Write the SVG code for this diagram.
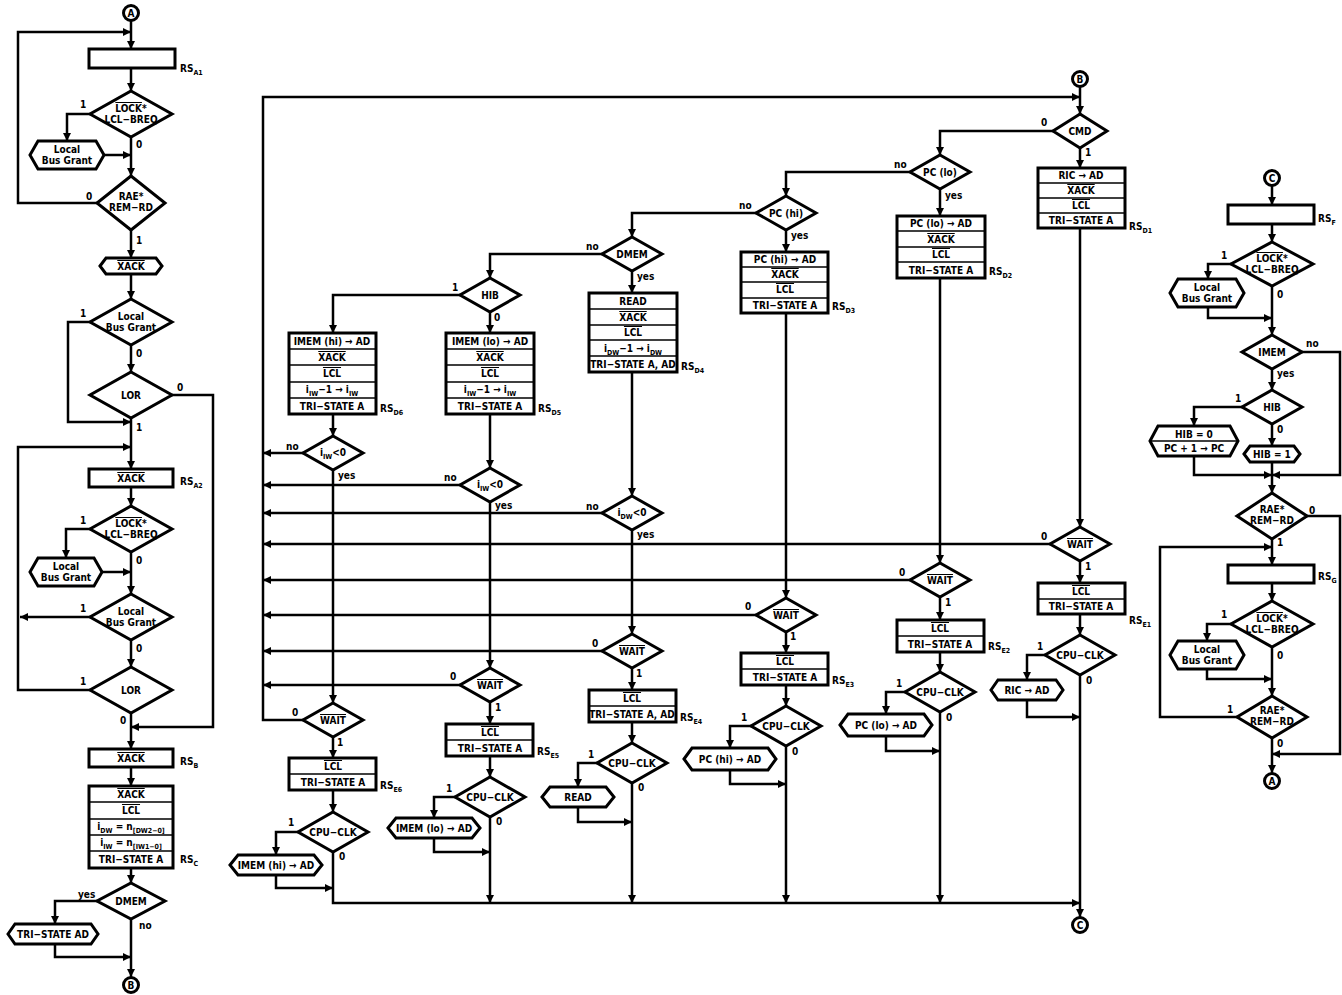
<svg xmlns="http://www.w3.org/2000/svg" width="1342" height="995" viewBox="0 0 1342 995">
<style>
.n{fill:#fff;stroke:#000;stroke-width:3}
.r{fill:none;stroke:#000;stroke-width:1.5}
.c{fill:none;stroke:#000;stroke-width:2.5}
.t{font-family:"DejaVu Sans Condensed","DejaVu Sans",sans-serif;font-weight:bold;font-size:10px;text-anchor:middle;fill:#000}
.s{font-family:"DejaVu Sans Condensed","DejaVu Sans",sans-serif;font-weight:bold;font-size:10px;text-anchor:start;fill:#000}
.ov{text-decoration:overline}
.sb{font-size:7px}
</style>
<defs>
<marker id="ah" viewBox="0 0 10 10" refX="10" refY="5" markerWidth="9" markerHeight="8" orient="auto" markerUnits="userSpaceOnUse"><path d="M0,0 L10,5 L0,10 z" fill="#000"/></marker>
</defs>
<rect width="1342" height="995" fill="#fff"/>

<g id="connectors" class="c" marker-end="url(#ah)">
<!-- left column -->
<path d="M131,21 V49"/>
<path d="M131,68 V91"/>
<path d="M90,114 H67 V141"/>
<path d="M131,137 V176"/>
<path d="M104,155 H131"/>
<path d="M97,203 H18 V32 H131"/>
<path d="M131,230 V258"/>
<path d="M131,274 V299"/>
<path d="M90,322 H68 V422 H131"/>
<path d="M131,345 V372"/>
<path d="M172,395 H213 V727 H131"/>
<path d="M131,418 V469"/>
<path d="M90,690 H18 V447 H131"/>
<path d="M131,487 V506"/>
<path d="M90,529 H66 V558"/>
<path d="M102,572 H131"/>
<path d="M131,552 V594"/>
<path d="M90,617 H20"/>
<path d="M131,640 V667"/>
<path d="M131,713 V749"/>
<path d="M131,767 V786"/>
<path d="M131,868 V883"/>
<path d="M97,901 H55 V924"/>
<path d="M55,944 V957 H131"/>
<path d="M131,919 V977"/>
<!-- middle -->
<path d="M303,720 H263 V97 H1080"/>
<path d="M1080,87 V114"/>
<path d="M1053,131 H940 V155"/>
<path d="M1080,148 V168"/>
<path d="M910,172 H786 V196"/>
<path d="M940,189 V216"/>
<path d="M756,213 H632 V237"/>
<path d="M786,230 V252"/>
<path d="M602,254 H490 V278"/>
<path d="M632,271 V293"/>
<path d="M460,295 H333 V333"/>
<path d="M490,312 V333"/>
<path d="M333,414 V436"/>
<path d="M303,453 H263"/>
<path d="M333,470 V703"/>
<path d="M490,414 V468"/>
<path d="M460,485 H263"/>
<path d="M490,502 V668"/>
<path d="M632,372 V496"/>
<path d="M602,513 H263"/>
<path d="M632,530 V634"/>
<path d="M786,313 V598"/>
<path d="M940,278 V563"/>
<path d="M1080,228 V527"/>
<path d="M1050,544 H263"/>
<path d="M910,580 H263"/>
<path d="M756,615 H263"/>
<path d="M602,651 H263"/>
<path d="M460,685 H263"/>
<path d="M1080,561 V583"/>
<path d="M940,597 V620"/>
<path d="M786,632 V653"/>
<path d="M632,668 V690"/>
<path d="M490,702 V724"/>
<path d="M333,737 V758"/>
<path d="M1080,614 V635"/>
<path d="M940,652 V672"/>
<path d="M786,685 V706"/>
<path d="M632,722 V743"/>
<path d="M490,756 V777"/>
<path d="M333,790 V812"/>
<path d="M1045,655 H1027 V680"/>
<path d="M905,692 H886 V714"/>
<path d="M751,726 H730 V748"/>
<path d="M597,763 H578 V787"/>
<path d="M455,797 H434 V818"/>
<path d="M298,832 H276 V855"/>
<path d="M1027,700 V717 H1080"/>
<path d="M886,736 V751 H940"/>
<path d="M730,770 V784 H786"/>
<path d="M578,807 V822 H632"/>
<path d="M434,838 V852 H490"/>
<path d="M276,875 V888 H333"/>
<path d="M333,852 V903 H1080"/>
<path d="M490,817 V903"/>
<path d="M632,783 V903"/>
<path d="M786,746 V903"/>
<path d="M940,712 V903"/>
<path d="M1080,675 V917"/>
<!-- right column -->
<path d="M1272,186 V205"/>
<path d="M1272,224 V242"/>
<path d="M1231,264 H1208 V279"/>
<path d="M1208,307 V318 H1272"/>
<path d="M1272,286 V335"/>
<path d="M1302,352 H1340 V475 H1272"/>
<path d="M1272,369 V390"/>
<path d="M1242,407 H1194 V426"/>
<path d="M1272,424 V446"/>
<path d="M1194,456 V475 H1272"/>
<path d="M1272,462 V493"/>
<path d="M1307,516 H1340 V754 H1272"/>
<path d="M1272,539 V565"/>
<path d="M1237,717 H1160 V547 H1272"/>
<path d="M1272,583 V601"/>
<path d="M1231,624 H1207 V641"/>
<path d="M1207,669 V679 H1272"/>
<path d="M1272,647 V696"/>
<path d="M1272,738 V773"/>
</g>

<!-- LEFT COLUMN NODES -->
<g id="conA_top"><circle class="n" cx="131" cy="13" r="7.5" stroke-width="2.5"/><text class="t" x="131" y="17" font-size="9">A</text></g>
<g id="RSA1"><rect class="n" x="89" y="49" width="86" height="19"/><text class="s" x="180" y="72">RS<tspan class="sb" dy="3">A1</tspan></text></g>
<g id="lock1"><polygon class="n" points="131,91 172,114 131,137 90,114"/><text class="t" x="131" y="112"><tspan class="ov">LOCK</tspan>*</text><text class="t" x="131" y="123">LCL−BREQ</text><text class="s" x="80" y="108">1</text><text class="s" x="136" y="148">0</text></g>
<g id="lbg_hex1"><polygon class="n" points="30,155 38,141 96,141 104,155 96,169 38,169"/><text class="t" x="67" y="153">Local</text><text class="t" x="67" y="164">Bus Grant</text></g>
<g id="rae1"><polygon class="n" points="131,176 165,203 131,230 97,203"/><text class="t" x="131" y="200">RAE*</text><text class="t" x="131" y="211">REM−RD</text><text class="s" x="86" y="200">0</text><text class="s" x="136" y="244">1</text></g>
<g id="xack_hex"><polygon class="n" points="100,266 106,258 156,258 162,266 156,274 106,274"/><text class="t ov" x="131" y="270">XACK</text></g>
<g id="lbg_dec1"><polygon class="n" points="131,299 172,322 131,345 90,322"/><text class="t" x="131" y="320">Local</text><text class="t" x="131" y="331">Bus Grant</text><text class="s" x="80" y="317">1</text><text class="s" x="136" y="357">0</text></g>
<g id="lor1"><polygon class="n" points="131,372 172,395 131,418 90,395"/><text class="t" x="131" y="399">LOR</text><text class="s" x="177" y="391">0</text><text class="s" x="136" y="431">1</text></g>
<g id="RSA2"><rect class="n" x="89" y="469" width="84" height="18"/><text class="t ov" x="131" y="482">XACK</text><text class="s" x="180" y="485">RS<tspan class="sb" dy="3">A2</tspan></text></g>
<g id="lock2"><polygon class="n" points="131,506 172,529 131,552 90,529"/><text class="t" x="131" y="527"><tspan class="ov">LOCK</tspan>*</text><text class="t" x="131" y="538">LCL−BREQ</text><text class="s" x="80" y="524">1</text><text class="s" x="136" y="564">0</text></g>
<g id="lbg_hex2"><polygon class="n" points="30,572 38,558 94,558 102,572 94,586 38,586"/><text class="t" x="66" y="570">Local</text><text class="t" x="66" y="581">Bus Grant</text></g>
<g id="lbg_dec2"><polygon class="n" points="131,594 172,617 131,640 90,617"/><text class="t" x="131" y="615">Local</text><text class="t" x="131" y="626">Bus Grant</text><text class="s" x="80" y="612">1</text><text class="s" x="136" y="652">0</text></g>
<g id="lor2"><polygon class="n" points="131,667 172,690 131,713 90,690"/><text class="t" x="131" y="694">LOR</text><text class="s" x="80" y="685">1</text><text class="s" x="120" y="724">0</text></g>
<g id="RSB"><rect class="n" x="89" y="749" width="84" height="18"/><text class="t ov" x="131" y="762">XACK</text><text class="s" x="180" y="765">RS<tspan class="sb" dy="3">B</tspan></text></g>
<g id="RSC"><rect class="n" x="89" y="786" width="84" height="82"/><path class="r" d="M89,802 H173 M89,819 H173 M89,835 H173 M89,851 H173"/>
<text class="t ov" x="131" y="798">XACK</text><text class="t ov" x="131" y="814">LCL</text>
<text class="t" x="131" y="830">i<tspan class="sb" dy="3">DW</tspan><tspan dy="-3"> = n</tspan><tspan class="sb" dy="3">[DW2−0]</tspan></text>
<text class="t" x="131" y="846">i<tspan class="sb" dy="3">IW</tspan><tspan dy="-3"> = n</tspan><tspan class="sb" dy="3">[IW1−0]</tspan></text>
<text class="t" x="131" y="863">TRI−STATE A</text><text class="s" x="180" y="863">RS<tspan class="sb" dy="3">C</tspan></text></g>
<g id="dmem1"><polygon class="n" points="131,883 165,901 131,919 97,901"/><text class="t" x="131" y="905">DMEM</text><text class="s" x="78" y="898">yes</text><text class="s" x="139" y="929">no</text></g>
<g id="tsad_hex"><polygon class="n" points="8,934 15,924 91,924 98,934 91,944 15,944"/><text class="t" x="53" y="938">TRI−STATE AD</text></g>
<g id="conB_bottom"><circle class="n" cx="131" cy="985" r="7.5" stroke-width="2.5"/><text class="t" x="131" y="989" font-size="9">B</text></g>

<!-- MIDDLE NODES -->
<g id="conB_top"><circle class="n" cx="1080" cy="79" r="7.5" stroke-width="2.5"/><text class="t" x="1080" y="83" font-size="9">B</text></g>
<g id="cmd"><polygon class="n" points="1080,114 1107,131 1080,148 1053,131"/><text class="t" x="1080" y="135">CMD</text><text class="s" x="1041" y="126">0</text><text class="s" x="1085" y="156">1</text></g>
<g id="pclo"><polygon class="n" points="940,155 970,172 940,189 910,172"/><text class="t" x="940" y="176">PC (lo)</text><text class="s" x="894" y="168">no</text><text class="s" x="945" y="199">yes</text></g>
<g id="pchi"><polygon class="n" points="786,196 816,213 786,230 756,213"/><text class="t" x="786" y="217">PC (hi)</text><text class="s" x="739" y="209">no</text><text class="s" x="791" y="239">yes</text></g>
<g id="dmem2"><polygon class="n" points="632,237 662,254 632,271 602,254"/><text class="t" x="632" y="258">DMEM</text><text class="s" x="586" y="250">no</text><text class="s" x="637" y="280">yes</text></g>
<g id="hib_mid"><polygon class="n" points="490,278 520,295 490,312 460,295"/><text class="t" x="490" y="299">HIB</text><text class="s" x="452" y="291">1</text><text class="s" x="494" y="321">0</text></g>

<g id="RSD6"><rect class="n" x="289" y="333" width="87" height="81"/><path class="r" d="M289,349 H376 M289,365 H376 M289,382 H376 M289,398 H376"/>
<text class="t" x="332" y="345">IMEM (hi) → AD</text><text class="t ov" x="332" y="361">XACK</text><text class="t ov" x="332" y="377">LCL</text>
<text class="t" x="332" y="393">i<tspan class="sb" dy="3">IW</tspan><tspan dy="-3">−1 → i</tspan><tspan class="sb" dy="3">IW</tspan></text>
<text class="t" x="332" y="410">TRI−STATE A</text><text class="s" x="380" y="412">RS<tspan class="sb" dy="3">D6</tspan></text></g>
<g id="RSD5"><rect class="n" x="446" y="333" width="88" height="81"/><path class="r" d="M446,349 H534 M446,365 H534 M446,382 H534 M446,398 H534"/>
<text class="t" x="490" y="345">IMEM (lo) → AD</text><text class="t ov" x="490" y="361">XACK</text><text class="t ov" x="490" y="377">LCL</text>
<text class="t" x="490" y="393">i<tspan class="sb" dy="3">IW</tspan><tspan dy="-3">−1 → i</tspan><tspan class="sb" dy="3">IW</tspan></text>
<text class="t" x="490" y="410">TRI−STATE A</text><text class="s" x="538" y="412">RS<tspan class="sb" dy="3">D5</tspan></text></g>
<g id="RSD4"><rect class="n" x="589" y="293" width="88" height="79"/><path class="r" d="M589,309 H677 M589,325 H677 M589,340 H677 M589,356 H677"/>
<text class="t" x="633" y="305">READ</text><text class="t ov" x="633" y="321">XACK</text><text class="t ov" x="633" y="336">LCL</text>
<text class="t" x="633" y="352">i<tspan class="sb" dy="3">DW</tspan><tspan dy="-3">−1 → i</tspan><tspan class="sb" dy="3">DW</tspan></text>
<text class="t" x="633" y="368">TRI−STATE A, AD</text><text class="s" x="681" y="370">RS<tspan class="sb" dy="3">D4</tspan></text></g>
<g id="RSD3"><rect class="n" x="741" y="252" width="87" height="61"/><path class="r" d="M741,267 H828 M741,282 H828 M741,298 H828"/>
<text class="t" x="785" y="263">PC (hi) → AD</text><text class="t ov" x="785" y="278">XACK</text><text class="t ov" x="785" y="293">LCL</text>
<text class="t" x="785" y="309">TRI−STATE A</text><text class="s" x="832" y="310">RS<tspan class="sb" dy="3">D3</tspan></text></g>
<g id="RSD2"><rect class="n" x="897" y="216" width="88" height="62"/><path class="r" d="M897,231 H985 M897,247 H985 M897,262 H985"/>
<text class="t" x="941" y="227">PC (lo) → AD</text><text class="t ov" x="941" y="243">XACK</text><text class="t ov" x="941" y="258">LCL</text>
<text class="t" x="941" y="274">TRI−STATE A</text><text class="s" x="989" y="275">RS<tspan class="sb" dy="3">D2</tspan></text></g>
<g id="RSD1"><rect class="n" x="1038" y="168" width="87" height="60"/><path class="r" d="M1038,183 H1125 M1038,198 H1125 M1038,213 H1125"/>
<text class="t" x="1081" y="179">RIC → AD</text><text class="t ov" x="1081" y="194">XACK</text><text class="t ov" x="1081" y="209">LCL</text>
<text class="t" x="1081" y="224">TRI−STATE A</text><text class="s" x="1129" y="230">RS<tspan class="sb" dy="3">D1</tspan></text></g>

<g id="iw6"><polygon class="n" points="333,436 363,453 333,470 303,453"/><text class="t" x="333" y="456">i<tspan class="sb" dy="3">IW</tspan><tspan dy="-3">&lt;0</tspan></text><text class="s" x="286" y="450">no</text><text class="s" x="338" y="479">yes</text></g>
<g id="iw5"><polygon class="n" points="490,468 520,485 490,502 460,485"/><text class="t" x="490" y="488">i<tspan class="sb" dy="3">IW</tspan><tspan dy="-3">&lt;0</tspan></text><text class="s" x="444" y="481">no</text><text class="s" x="495" y="509">yes</text></g>
<g id="dw4"><polygon class="n" points="632,496 662,513 632,530 602,513"/><text class="t" x="632" y="516">i<tspan class="sb" dy="3">DW</tspan><tspan dy="-3">&lt;0</tspan></text><text class="s" x="586" y="510">no</text><text class="s" x="637" y="538">yes</text></g>

<g id="wait1"><polygon class="n" points="1080,527 1110,544 1080,561 1050,544"/><text class="t ov" x="1080" y="548">WAIT</text><text class="s" x="1041" y="540">0</text><text class="s" x="1085" y="570">1</text></g>
<g id="wait2"><polygon class="n" points="940,563 970,580 940,597 910,580"/><text class="t ov" x="940" y="584">WAIT</text><text class="s" x="899" y="576">0</text><text class="s" x="945" y="606">1</text></g>
<g id="wait3"><polygon class="n" points="786,598 816,615 786,632 756,615"/><text class="t ov" x="786" y="619">WAIT</text><text class="s" x="745" y="610">0</text><text class="s" x="790" y="640">1</text></g>
<g id="wait4"><polygon class="n" points="632,634 662,651 632,668 602,651"/><text class="t ov" x="632" y="655">WAIT</text><text class="s" x="592" y="647">0</text><text class="s" x="636" y="677">1</text></g>
<g id="wait5"><polygon class="n" points="490,668 520,685 490,702 460,685"/><text class="t ov" x="490" y="689">WAIT</text><text class="s" x="450" y="680">0</text><text class="s" x="495" y="711">1</text></g>
<g id="wait6"><polygon class="n" points="333,703 363,720 333,737 303,720"/><text class="t ov" x="333" y="724">WAIT</text><text class="s" x="292" y="716">0</text><text class="s" x="337" y="746">1</text></g>

<g id="RSE1"><rect class="n" x="1038" y="583" width="87" height="31"/><path class="r" d="M1038,599 H1125"/><text class="t ov" x="1081" y="595">LCL</text><text class="t" x="1081" y="610">TRI−STATE A</text><text class="s" x="1129" y="624">RS<tspan class="sb" dy="3">E1</tspan></text></g>
<g id="RSE2"><rect class="n" x="897" y="620" width="87" height="32"/><path class="r" d="M897,636 H984"/><text class="t ov" x="940" y="632">LCL</text><text class="t" x="940" y="648">TRI−STATE A</text><text class="s" x="988" y="650">RS<tspan class="sb" dy="3">E2</tspan></text></g>
<g id="RSE3"><rect class="n" x="741" y="653" width="87" height="32"/><path class="r" d="M741,669 H828"/><text class="t ov" x="785" y="665">LCL</text><text class="t" x="785" y="681">TRI−STATE A</text><text class="s" x="832" y="684">RS<tspan class="sb" dy="3">E3</tspan></text></g>
<g id="RSE4"><rect class="n" x="589" y="690" width="87" height="32"/><path class="r" d="M589,706 H676"/><text class="t ov" x="632" y="702">LCL</text><text class="t" x="632" y="718">TRI−STATE A, AD</text><text class="s" x="680" y="721">RS<tspan class="sb" dy="3">E4</tspan></text></g>
<g id="RSE5"><rect class="n" x="446" y="724" width="87" height="32"/><path class="r" d="M446,740 H533"/><text class="t ov" x="490" y="736">LCL</text><text class="t" x="490" y="752">TRI−STATE A</text><text class="s" x="537" y="755">RS<tspan class="sb" dy="3">E5</tspan></text></g>
<g id="RSE6"><rect class="n" x="289" y="758" width="87" height="32"/><path class="r" d="M289,774 H376"/><text class="t ov" x="333" y="770">LCL</text><text class="t" x="333" y="786">TRI−STATE A</text><text class="s" x="380" y="789">RS<tspan class="sb" dy="3">E6</tspan></text></g>

<g id="cpu1"><polygon class="n" points="1080,635 1115,655 1080,675 1045,655"/><text class="t" x="1080" y="659">CPU−CLK</text><text class="s" x="1037" y="650">1</text><text class="s" x="1086" y="684">0</text></g>
<g id="cpu2"><polygon class="n" points="940,672 975,692 940,712 905,692"/><text class="t" x="940" y="696">CPU−CLK</text><text class="s" x="896" y="687">1</text><text class="s" x="946" y="721">0</text></g>
<g id="cpu3"><polygon class="n" points="786,706 821,726 786,746 751,726"/><text class="t" x="786" y="730">CPU−CLK</text><text class="s" x="741" y="721">1</text><text class="s" x="792" y="755">0</text></g>
<g id="cpu4"><polygon class="n" points="632,743 667,763 632,783 597,763"/><text class="t" x="632" y="767">CPU−CLK</text><text class="s" x="588" y="758">1</text><text class="s" x="638" y="791">0</text></g>
<g id="cpu5"><polygon class="n" points="490,777 525,797 490,817 455,797"/><text class="t" x="490" y="801">CPU−CLK</text><text class="s" x="446" y="792">1</text><text class="s" x="496" y="825">0</text></g>
<g id="cpu6"><polygon class="n" points="333,812 368,832 333,852 298,832"/><text class="t" x="333" y="836">CPU−CLK</text><text class="s" x="288" y="826">1</text><text class="s" x="339" y="860">0</text></g>

<g id="ric_hex"><polygon class="n" points="991,690 998,680 1056,680 1063,690 1056,700 998,700"/><text class="t" x="1027" y="694">RIC → AD</text></g>
<g id="pclo_hex"><polygon class="n" points="840,725 848,714 924,714 932,725 924,736 848,736"/><text class="t" x="886" y="729">PC (lo) → AD</text></g>
<g id="pchi_hex"><polygon class="n" points="684,759 692,748 768,748 776,759 768,770 692,770"/><text class="t" x="730" y="763">PC (hi) → AD</text></g>
<g id="read_hex"><polygon class="n" points="542,797 550,787 606,787 614,797 606,807 550,807"/><text class="t" x="578" y="801">READ</text></g>
<g id="imlo_hex"><polygon class="n" points="388,828 396,818 472,818 480,828 472,838 396,838"/><text class="t" x="434" y="832">IMEM (lo) → AD</text></g>
<g id="imhi_hex"><polygon class="n" points="230,865 238,855 314,855 322,865 314,875 238,875"/><text class="t" x="276" y="869">IMEM (hi) → AD</text></g>
<g id="conC_bottom"><circle class="n" cx="1080" cy="925" r="7.5" stroke-width="2.5"/><text class="t" x="1080" y="929" font-size="9">C</text></g>

<!-- RIGHT COLUMN -->
<g id="conC_top"><circle class="n" cx="1272" cy="178" r="7.5" stroke-width="2.5"/><text class="t" x="1272" y="182" font-size="9">C</text></g>
<g id="RSF"><rect class="n" x="1228" y="205" width="86" height="19"/><text class="s" x="1318" y="222">RS<tspan class="sb" dy="3">F</tspan></text></g>
<g id="lockF"><polygon class="n" points="1272,242 1313,264 1272,286 1231,264"/><text class="t" x="1272" y="262"><tspan class="ov">LOCK</tspan>*</text><text class="t" x="1272" y="273">LCL−BREQ</text><text class="s" x="1221" y="259">1</text><text class="s" x="1277" y="298">0</text></g>
<g id="lbg_hexF"><polygon class="n" points="1170,293 1178,279 1236,279 1244,293 1236,307 1178,307"/><text class="t" x="1207" y="291">Local</text><text class="t" x="1207" y="302">Bus Grant</text></g>
<g id="imem"><polygon class="n" points="1272,335 1302,352 1272,369 1242,352"/><text class="t" x="1272" y="356">IMEM</text><text class="s" x="1306" y="347">no</text><text class="s" x="1277" y="377">yes</text></g>
<g id="hibR"><polygon class="n" points="1272,390 1302,407 1272,424 1242,407"/><text class="t" x="1272" y="411">HIB</text><text class="s" x="1235" y="402">1</text><text class="s" x="1277" y="433">0</text></g>
<g id="hib0_hex"><polygon class="n" points="1150,441 1158,426 1230,426 1238,441 1230,456 1158,456"/><path class="r" d="M1150,441 H1238"/><text class="t" x="1194" y="438">HIB = 0</text><text class="t" x="1194" y="452">PC + 1 → PC</text></g>
<g id="hib1_hex"><polygon class="n" points="1244,454 1250,446 1294,446 1300,454 1294,462 1250,462"/><text class="t" x="1272" y="458">HIB = 1</text></g>
<g id="raeR"><polygon class="n" points="1272,493 1307,516 1272,539 1237,516"/><text class="t" x="1272" y="513">RAE*</text><text class="t" x="1272" y="524">REM−RD</text><text class="s" x="1309" y="514">0</text><text class="s" x="1277" y="546">1</text></g>
<g id="RSG"><rect class="n" x="1228" y="565" width="86" height="18"/><text class="s" x="1318" y="580">RS<tspan class="sb" dy="3">G</tspan></text></g>
<g id="lockG"><polygon class="n" points="1272,601 1313,624 1272,647 1231,624"/><text class="t" x="1272" y="622"><tspan class="ov">LOCK</tspan>*</text><text class="t" x="1272" y="633">LCL−BREQ</text><text class="s" x="1221" y="618">1</text><text class="s" x="1277" y="659">0</text></g>
<g id="lbg_hexG"><polygon class="n" points="1170,655 1178,641 1236,641 1244,655 1236,669 1178,669"/><text class="t" x="1207" y="653">Local</text><text class="t" x="1207" y="664">Bus Grant</text></g>
<g id="raeG"><polygon class="n" points="1272,696 1307,717 1272,738 1237,717"/><text class="t" x="1272" y="714">RAE*</text><text class="t" x="1272" y="725">REM−RD</text><text class="s" x="1227" y="713">1</text><text class="s" x="1277" y="747">0</text></g>
<g id="conA_bottom"><circle class="n" cx="1272" cy="781" r="7.5" stroke-width="2.5"/><text class="t" x="1272" y="785" font-size="9">A</text></g>
</svg>
